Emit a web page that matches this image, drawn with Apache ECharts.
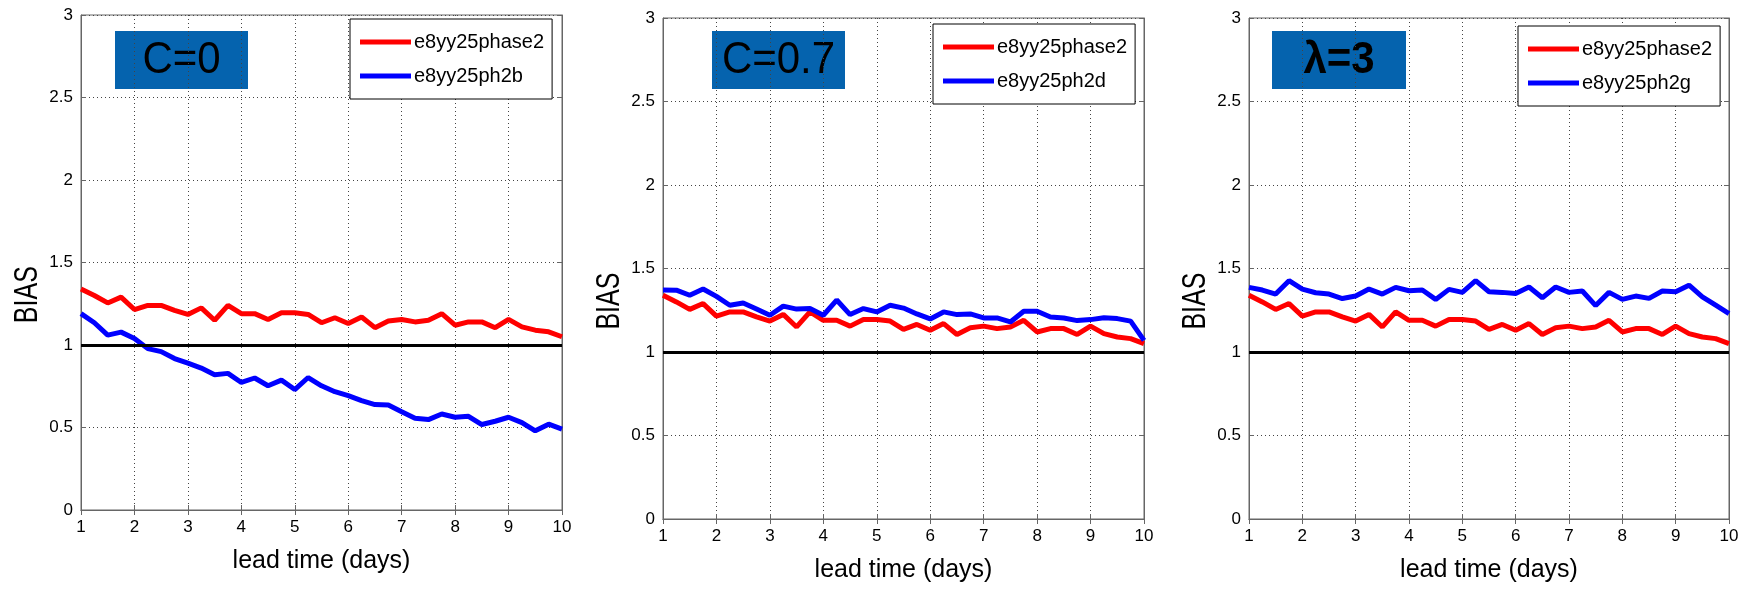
<!DOCTYPE html>
<html>
<head>
<meta charset="utf-8">
<script src="https://cdn.jsdelivr.net/npm/echarts@6/dist/echarts.min.js"></script>
<style>
  html, body { margin: 0; padding: 0; background: #fff; }
  #main { width: 1742px; height: 589px; }
</style>
</head>
<body>
<div id="main"></div>
<script>
// lead time in days, one value every 6 hours
var leadDays = [1, 1.25, 1.5, 1.75, 2, 2.25, 2.5, 2.75, 3, 3.25, 3.5, 3.75, 4, 4.25, 4.5, 4.75,
  5, 5.25, 5.5, 5.75, 6, 6.25, 6.5, 6.75, 7, 7.25, 7.5, 7.75, 8, 8.25, 8.5, 8.75, 9, 9.25, 9.5, 9.75, 10];

// reference run, same in all three panels
var biasPhase2 = [1.34, 1.30, 1.255, 1.29, 1.215, 1.24, 1.24, 1.21, 1.185, 1.225, 1.15, 1.24, 1.19, 1.19, 1.155, 1.195,
  1.195, 1.185, 1.135, 1.165, 1.13, 1.17, 1.105, 1.145, 1.155, 1.14, 1.15, 1.19, 1.12, 1.14, 1.14, 1.105, 1.155, 1.11, 1.09, 1.08, 1.05];

var biasPh2b = [1.19, 1.135, 1.06, 1.078, 1.04, 0.978, 0.96, 0.918, 0.89, 0.86, 0.82, 0.828, 0.773, 0.80, 0.753, 0.787,
  0.73, 0.803, 0.753, 0.717, 0.693, 0.663, 0.639, 0.637, 0.596, 0.556, 0.548, 0.582, 0.562, 0.568, 0.518, 0.538, 0.562, 0.53, 0.48, 0.52, 0.49];

var biasPh2d = [1.371, 1.37, 1.34, 1.377, 1.333, 1.28, 1.293, 1.257, 1.22, 1.275, 1.257, 1.26, 1.22, 1.311, 1.224, 1.26,
  1.24, 1.28, 1.263, 1.228, 1.198, 1.24, 1.224, 1.228, 1.204, 1.204, 1.18, 1.244, 1.244, 1.21, 1.204, 1.188, 1.194, 1.205, 1.20, 1.185, 1.07];

var biasPh2g = [1.387, 1.371, 1.347, 1.427, 1.377, 1.355, 1.347, 1.32, 1.335, 1.377, 1.347, 1.387, 1.367, 1.371, 1.315, 1.375,
  1.357, 1.427, 1.361, 1.357, 1.351, 1.389, 1.325, 1.389, 1.357, 1.365, 1.278, 1.357, 1.315, 1.335, 1.321, 1.365, 1.361, 1.40, 1.33, 1.28, 1.23];

var refName = 'e8yy25phase2';
var expNames = ['e8yy25ph2b', 'e8yy25ph2d', 'e8yy25ph2g'];
var expValues = [biasPh2b, biasPh2d, biasPh2g];
var panelLabels = ['C=0', 'C=0.7', 'λ=3'];
var yTitle = 'BIAS';
var xTitle = 'lead time (days)';
var perfectBias = 1;

// layout (pixels)
var grids = [
  { left: 81, top: 15, width: 481, height: 495 },
  { left: 663, top: 18, width: 481, height: 501 },
  { left: 1249, top: 18, width: 480, height: 501 }
];
var legendPos = [
  { left: 350, top: 19 },
  { left: 933, top: 24 },
  { left: 1518, top: 26 }
];
var boxPos = [
  { left: 115, top: 31, width: 133, bold: false },
  { left: 712, top: 31, width: 133, bold: false },
  { left: 1272, top: 31, width: 134, bold: true }
];

var FONT = 'Liberation Sans, Arial, sans-serif';
var frameColor = '#666';
var gridLine = { show: true, lineStyle: { color: '#444', width: 1, type: [1, 3] } };

function pairs(xs, ys) {
  return xs.map(function (x, i) { return [x, ys[i]]; });
}

var myChart = echarts.init(document.getElementById('main'));

var option = {
  animation: false,
  backgroundColor: '#fff',
  grid: [],
  xAxis: [],
  yAxis: [],
  legend: [],
  graphic: [],
  series: []
};

grids.forEach(function (g, idx) {
  option.grid.push({
    left: g.left, top: g.top, width: g.width, height: g.height,
    show: true, borderColor: frameColor, borderWidth: 1, backgroundColor: '#fff'
  });

  // bottom x axis with labels
  option.xAxis.push({
    type: 'value', gridIndex: idx, min: 1, max: 10, interval: 1,
    name: xTitle, nameLocation: 'middle', nameGap: 39,
    nameTextStyle: { fontFamily: FONT, fontSize: 25, color: '#000' },
    axisLine: { show: true, lineStyle: { color: frameColor } },
    axisTick: { show: true, inside: true, length: 5, lineStyle: { color: frameColor } },
    axisLabel: { fontFamily: FONT, fontSize: 17, color: '#000', margin: 9 },
    splitLine: gridLine
  });
  // top x axis, ticks only
  option.xAxis.push({
    type: 'value', gridIndex: idx, min: 1, max: 10, interval: 1, position: 'top',
    axisLine: { show: true, lineStyle: { color: frameColor } },
    axisTick: { show: true, inside: true, length: 5, lineStyle: { color: frameColor } },
    axisLabel: { show: false }, splitLine: { show: false }
  });

  option.yAxis.push({
    type: 'value', gridIndex: idx, min: 0, max: 3, interval: 0.5,
    axisLine: { show: true, lineStyle: { color: frameColor } },
    axisTick: { show: true, inside: true, length: 5, lineStyle: { color: frameColor } },
    axisLabel: { fontFamily: FONT, fontSize: 17, color: '#000', margin: 8 },
    splitLine: gridLine
  });
  option.yAxis.push({
    type: 'value', gridIndex: idx, min: 0, max: 3, interval: 0.5, position: 'right',
    axisLine: { show: true, lineStyle: { color: frameColor } },
    axisTick: { show: true, inside: true, length: 5, lineStyle: { color: frameColor } },
    axisLabel: { show: false }, splitLine: { show: false }
  });

  option.series.push({
    name: refName, type: 'line', xAxisIndex: idx * 2, yAxisIndex: idx * 2,
    data: pairs(leadDays, biasPhase2), showSymbol: false, z: 4,
    lineStyle: { color: '#ff0000', width: 5 }, itemStyle: { color: '#ff0000' },
    markLine: {
      silent: true, symbol: 'none', label: { show: false },
      lineStyle: { color: '#000', width: 3, type: 'solid' },
      data: [{ yAxis: perfectBias }]
    }
  });
  option.series.push({
    name: expNames[idx], type: 'line', xAxisIndex: idx * 2, yAxisIndex: idx * 2,
    data: pairs(leadDays, expValues[idx]), showSymbol: false, z: idx === 0 ? 3 : 5,
    lineStyle: { color: '#0000ff', width: 5 }, itemStyle: { color: '#0000ff' }
  });

  option.legend.push({
    data: [refName, expNames[idx]],
    left: legendPos[idx].left, top: legendPos[idx].top,
    orient: 'vertical', icon: 'rect', itemWidth: 51, itemHeight: 5, itemGap: 12,
    padding: [12, 8, 12, 10],
    backgroundColor: '#fff', borderColor: '#000', borderWidth: 1, borderRadius: 0,
    textStyle: { fontFamily: FONT, fontSize: 20, color: '#000', lineHeight: 22, padding: [0, 0, 0, -2] },
    selectedMode: false
  });

  var b = boxPos[idx];
  option.graphic.push({
    type: 'group', left: b.left, top: b.top,
    children: [
      { type: 'rect', shape: { x: 0, y: 0, width: b.width, height: 58 }, style: { fill: '#0563ae' } },
      {
        type: 'text', x: b.width / 2, y: 30, scaleY: 1.06,
        style: {
          text: panelLabels[idx], fill: '#000', align: 'center', verticalAlign: 'middle',
          font: (b.bold ? 'bold ' : '') + '42px Liberation Sans, Arial, sans-serif'
        }
      }
    ]
  });

  // y title, glyphs a little taller than wide as in the exported figure
  option.graphic.push({
    type: 'text', x: g.left - 53, y: g.top + g.height * 0.565,
    rotation: Math.PI / 2, scaleY: 1.3,
    style: {
      text: yTitle, fill: '#000', align: 'center', verticalAlign: 'middle',
      font: '25px Liberation Sans, Arial, sans-serif'
    }
  });
});

myChart.setOption(option);
</script>
</body>
</html>
